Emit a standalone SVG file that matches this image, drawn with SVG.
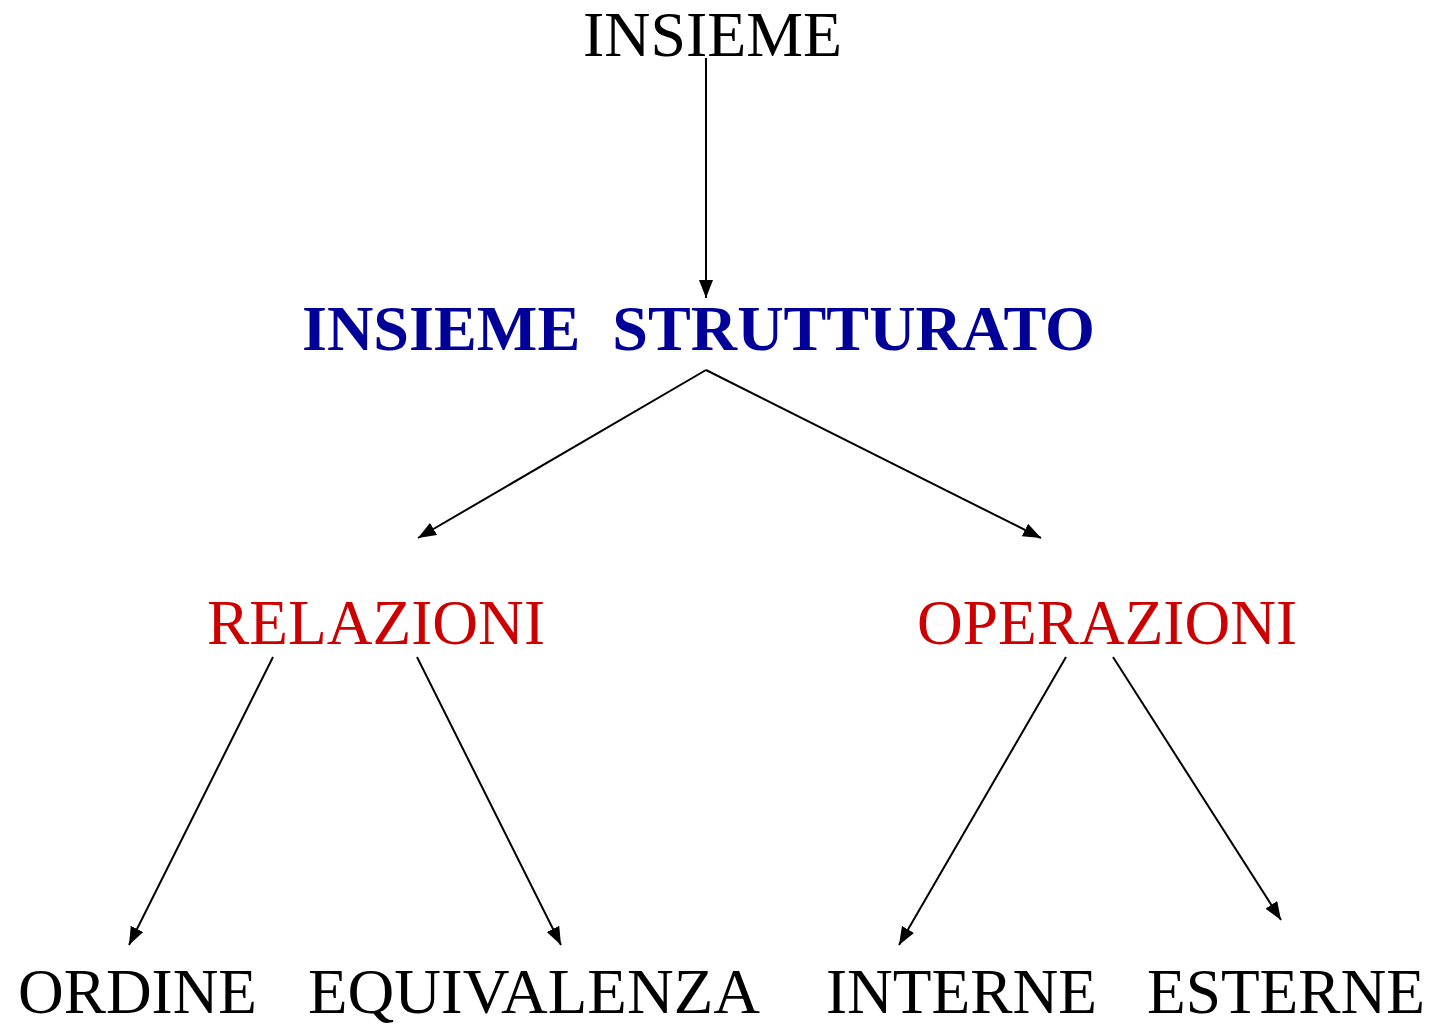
<svg xmlns="http://www.w3.org/2000/svg" width="1435" height="1024" viewBox="0 0 1435 1024">
<style>
.t{font-family:"Liberation Serif","Times New Roman",serif;font-size:64px;fill:#000}
.b{font-weight:bold;fill:#000099}
.r{fill:#CC0000}
.c line{stroke:#000;stroke-width:2;fill:none}
</style>
<defs>
<marker id="ah" markerUnits="userSpaceOnUse" markerWidth="20" markerHeight="14" refX="18" refY="7" orient="auto">
<path d="M0,0 L18,7 L0,14 Z" fill="#000"/>
</marker>
</defs>
<rect width="1435" height="1024" fill="#fff"/>
<g class="c" id="connectors">
<line x1="706" y1="58" x2="706" y2="298" marker-end="url(#ah)"/>
<line x1="706" y1="370" x2="418" y2="538" marker-end="url(#ah)"/>
<line x1="706" y1="370" x2="1041" y2="538" marker-end="url(#ah)"/>
<line x1="273" y1="657" x2="129" y2="945" marker-end="url(#ah)"/>
<line x1="417" y1="657" x2="561" y2="945" marker-end="url(#ah)"/>
<line x1="1066" y1="657" x2="899" y2="945" marker-end="url(#ah)"/>
<line x1="1113" y1="657" x2="1281" y2="920" marker-end="url(#ah)"/>
</g>
<g id="insieme"><text class="t" x="583" y="56" textLength="259" lengthAdjust="spacingAndGlyphs">INSIEME</text></g>
<g id="strutturato"><text class="t b" x="302" y="350" textLength="793" lengthAdjust="spacingAndGlyphs" xml:space="preserve">INSIEME  STRUTTURATO</text></g>
<g id="relazioni"><text class="t r" x="207" y="644" textLength="338" lengthAdjust="spacingAndGlyphs">RELAZIONI</text></g>
<g id="operazioni"><text class="t r" x="917" y="644" textLength="380" lengthAdjust="spacingAndGlyphs">OPERAZIONI</text></g>
<g id="ordine"><text class="t" x="18" y="1013" textLength="239" lengthAdjust="spacingAndGlyphs">ORDINE</text></g>
<g id="equivalenza"><text class="t" x="308" y="1013" textLength="452" lengthAdjust="spacingAndGlyphs">EQUIVALENZA</text></g>
<g id="interne"><text class="t" x="826" y="1013" textLength="271" lengthAdjust="spacingAndGlyphs">INTERNE</text></g>
<g id="esterne"><text class="t" x="1147" y="1013" textLength="278" lengthAdjust="spacingAndGlyphs">ESTERNE</text></g>
</svg>
